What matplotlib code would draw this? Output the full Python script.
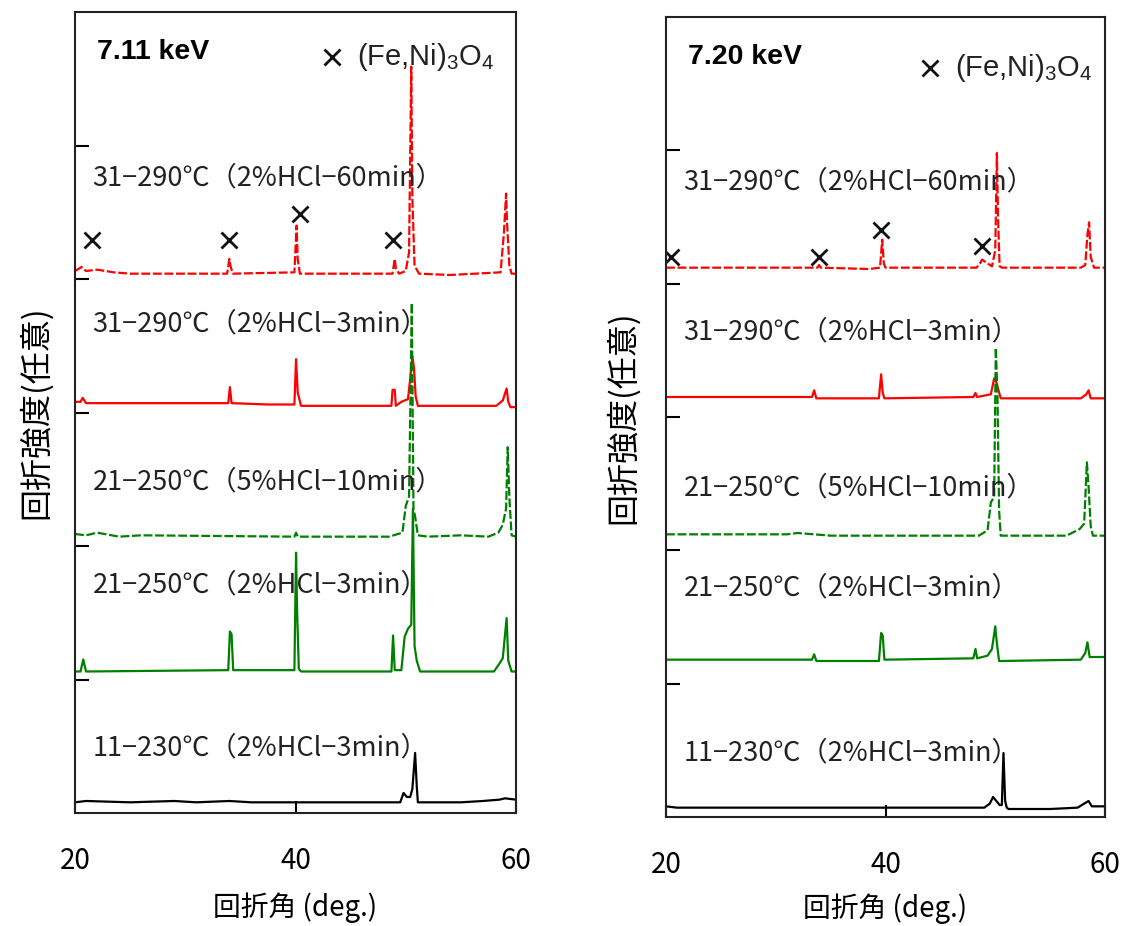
import matplotlib
matplotlib.use("Agg")
import matplotlib.pyplot as plt

plt.rcParams['font.family'] = ['Noto Sans CJK JP', 'DejaVu Sans']
plt.rcParams['mathtext.default'] = 'regular'

# sample labels (top to bottom)
labels = ["31−290℃（2%HCl−60min）", "31−290℃（2%HCl−3min）",
          "21−250℃（5%HCl−10min）", "21−250℃（2%HCl−3min）",
          "11−230℃（2%HCl−3min）"]

# ---- 7.11 keV ----
l60_x = [20, 20.6, 21.0, 22.0, 23.5, 25, 33.8, 34.0, 34.1, 34.3, 39.9, 40.1, 40.2, 40.4, 48.8, 49.0, 49.1, 49.4,
         50.0, 50.3, 50.5, 50.6, 50.8, 51.2, 54, 58.6, 58.9, 59.1, 59.2, 59.4, 59.6, 60]
l60_y = [4.06, 4.09, 4.06, 4.07, 4.05, 4.04, 4.04, 4.15, 4.10, 4.04, 4.05, 4.40, 4.15, 4.04, 4.04, 4.15, 4.08, 4.04,
         4.06, 4.20, 5.59, 4.60, 4.10, 4.04, 4.03, 4.05, 4.34, 4.64, 4.40, 4.10, 4.04, 4.04]
l3r_x = [20, 20.5, 20.7, 21.0, 33.9, 34.05, 34.2, 37.5, 39.9, 40.05, 40.2, 40.5, 48.7, 48.8, 49.0, 49.1, 49.6, 50.2,
         50.4, 50.6, 50.75, 50.9, 51.1, 58.2, 58.8, 59.15, 59.3, 59.5, 60]
l3r_y = [3.08, 3.08, 3.11, 3.07, 3.07, 3.19, 3.07, 3.06, 3.06, 3.40, 3.15, 3.05, 3.05, 3.17, 3.17, 3.05, 3.08, 3.10,
         3.25, 3.42, 3.33, 3.12, 3.05, 3.05, 3.09, 3.18, 3.08, 3.04, 3.04]
l10_x = [20, 21, 22, 24, 26, 39.9, 40.05, 40.2, 48.5, 49.7, 50.0, 50.3, 50.55, 50.7, 50.85, 51.1, 52, 55, 57.5, 58.4,
         58.8, 59.1, 59.25, 59.4, 59.6, 60]
l10_y = [2.09, 2.08, 2.10, 2.07, 2.08, 2.07, 2.10, 2.07, 2.07, 2.10, 2.30, 2.37, 3.82, 2.28, 2.22, 2.08, 2.07, 2.08,
         2.07, 2.10, 2.16, 2.28, 2.74, 2.36, 2.08, 2.07]
l3g_x = [20, 20.5, 20.75, 21.0, 33.9, 34.05, 34.2, 34.35, 39.9, 40.05, 40.15, 40.3, 40.5, 48.7, 48.85, 49.0, 49.6,
         49.9, 50.2, 50.5, 50.65, 50.8, 51.0, 51.3, 58.0, 58.5, 58.8, 59.15, 59.3, 59.6, 60]
l3g_y = [1.06, 1.06, 1.15, 1.06, 1.07, 1.36, 1.34, 1.07, 1.07, 1.95, 1.50, 1.08, 1.06, 1.06, 1.33, 1.07, 1.07,
         1.32, 1.38, 1.41, 2.28, 1.25, 1.14, 1.06, 1.06, 1.12, 1.16, 1.46, 1.14, 1.06, 1.06]
l11_x = [20, 21, 25, 29, 31, 34, 36, 49.5, 49.8, 50.1, 50.4, 50.6, 50.85, 51.0, 51.1, 51.3, 55, 57, 58.5, 59.0, 60]
l11_y = [0.08, 0.09, 0.08, 0.09, 0.08, 0.09, 0.08, 0.08, 0.15, 0.12, 0.12, 0.18, 0.45, 0.20, 0.08, 0.08, 0.08, 0.09,
         0.10, 0.11, 0.10]
lmark_x = [21.5, 34.0, 40.4, 48.8]
lmark_y = [4.29, 4.29, 4.49, 4.29]

# ---- 7.20 keV ----
r60_x = [20, 33.8, 33.95, 34.1, 38.5, 39.5, 39.7, 39.85, 40.0, 48.3, 48.6, 48.8, 49.7, 50.0, 50.15, 50.25, 50.4, 50.6,
         57.8, 58.2, 58.4, 58.55, 58.7, 59.0, 60]
r60_y = [4.12, 4.12, 4.14, 4.12, 4.11, 4.12, 4.33, 4.15, 4.12, 4.12, 4.15, 4.18, 4.13, 4.25, 4.98, 4.50, 4.13, 4.12,
         4.12, 4.14, 4.37, 4.46, 4.20, 4.12, 4.12]
r3r_x = [20, 33.3, 33.5, 33.7, 39.4, 39.6, 39.75, 39.9, 48.0, 48.2, 48.35, 49.6, 49.9, 50.1, 50.3, 50.5, 57.8, 58.3,
         58.5, 58.7, 60]
r3r_y = [3.15, 3.15, 3.20, 3.14, 3.14, 3.32, 3.18, 3.14, 3.15, 3.18, 3.15, 3.17, 3.29, 3.26, 3.20, 3.14, 3.14, 3.17,
         3.20, 3.14, 3.14]
r10_x = [20, 31, 32, 35, 48.5, 49.3, 49.6, 49.9, 50.05, 50.2, 50.35, 50.5, 56.5, 57.7, 58.1, 58.35, 58.5, 58.7, 58.9, 60]
r10_y = [2.12, 2.12, 2.13, 2.11, 2.11, 2.15, 2.36, 2.40, 3.52, 3.17, 2.30, 2.11, 2.11, 2.16, 2.20, 2.66, 2.48, 2.18,
         2.11, 2.11]
r3g_x = [20, 33.3, 33.5, 33.7, 39.4, 39.6, 39.75, 39.9, 48.0, 48.2, 48.35, 49.3, 49.7, 50.0, 50.15, 50.35, 50.6,
         57.8, 58.2, 58.4, 58.6, 60]
r3g_y = [1.18, 1.18, 1.22, 1.17, 1.17, 1.38, 1.36, 1.18, 1.19, 1.26, 1.19, 1.21, 1.26, 1.43, 1.30, 1.17, 1.17,
         1.18, 1.23, 1.31, 1.20, 1.20]
r11_x = [20, 21, 49.0, 49.5, 49.8, 50.1, 50.4, 50.6, 50.75, 50.9, 51.05, 51.2, 55, 57.5, 58.5, 58.8, 60]
r11_y = [0.08, 0.07, 0.07, 0.10, 0.15, 0.12, 0.09, 0.09, 0.48, 0.12, 0.07, 0.06, 0.06, 0.07, 0.12, 0.08, 0.08]
rmark_x = [20.5, 33.9, 39.6, 48.8]
rmark_y = [4.20, 4.20, 4.40, 4.28]

panels = [
    dict(rect=[75/1126, 113/926, 441/1126, 801/926], title="7.11 keV",
         traces=[(l60_x, l60_y), (l3r_x, l3r_y), (l10_x, l10_y), (l3g_x, l3g_y), (l11_x, l11_y)],
         marks=(lmark_x, lmark_y), label_y=[4.76, 3.66, 2.48, 1.71, 0.49],
         ylabel_x=35/1126, leg_x=43.3, leg_y=5.66, xlabel_y=908/926),
    dict(rect=[666/1126, 109/926, 439/1126, 800/926], title="7.20 keV",
         traces=[(r60_x, r60_y), (r3r_x, r3r_y), (r10_x, r10_y), (r3g_x, r3g_y), (r11_x, r11_y)],
         marks=(rmark_x, rmark_y), label_y=[4.76, 3.64, 2.47, 1.72, 0.48],
         ylabel_x=622/1126, leg_x=44.05, leg_y=5.62, xlabel_y=909/926),
]
colors = ['#ff0000', '#ff0000', '#008000', '#008000', 'black']
styles = [(0, (4, 1.2)), '-', (0, (4, 1.2)), '-', '-']

fig = plt.figure(figsize=(11.26, 9.26), dpi=100)
for p in panels:
    ax = fig.add_axes(p['rect'])
    for (x, y), c, ls in zip(p['traces'], colors, styles):
        ax.plot(x, y, color=c, ls=ls, lw=1.6)
    ax.plot(p['marks'][0], p['marks'][1], 'x', color='#111111', ms=12, mew=2)
    for lab, ly in zip(labels, p['label_y']):
        ax.text(21.6, ly, lab, fontsize=19.5, color='#222222', va='center', ha='left')
    ax.text(22.0, 5.70, p['title'], fontsize=20.5, fontweight='bold', family='Liberation Sans',
            va='center', ha='left')
    ax.plot([p['leg_x']], [p['leg_y']], 'x', color='#111111', ms=12, mew=2)
    ax.text(p['leg_x'] + 2.3, p['leg_y'], r"(Fe,Ni)$_3$O$_4$", fontsize=21, family='Liberation Sans',
            color='#222222', va='center', ha='left')
    ax.set_xlim(20, 60)
    ax.set_ylim(0, 6)
    ax.set_xticks([20, 40, 60])
    ax.set_yticks([1, 2, 3, 4, 5])
    ax.set_yticklabels([])
    ax.tick_params(axis='x', direction='in', length=9, width=1.5, labelsize=20, pad=24)
    ax.tick_params(axis='y', direction='in', length=10, width=1.5)
    for s in ax.spines.values():
        s.set_linewidth(1.5)
        s.set_color('#222222')
    # x label placed in figure coordinates
    fig.text(p['rect'][0] + p['rect'][2] / 2, 1 - p['xlabel_y'], "回折角 (deg.)", fontsize=20,
             va='center', ha='center')
    fig.text(p['ylabel_x'], p['rect'][1] + p['rect'][3] / 2, "回折強度(任意)", rotation=90,
             fontsize=23, va='center', ha='center')

fig.savefig("out.png", dpi=100)
